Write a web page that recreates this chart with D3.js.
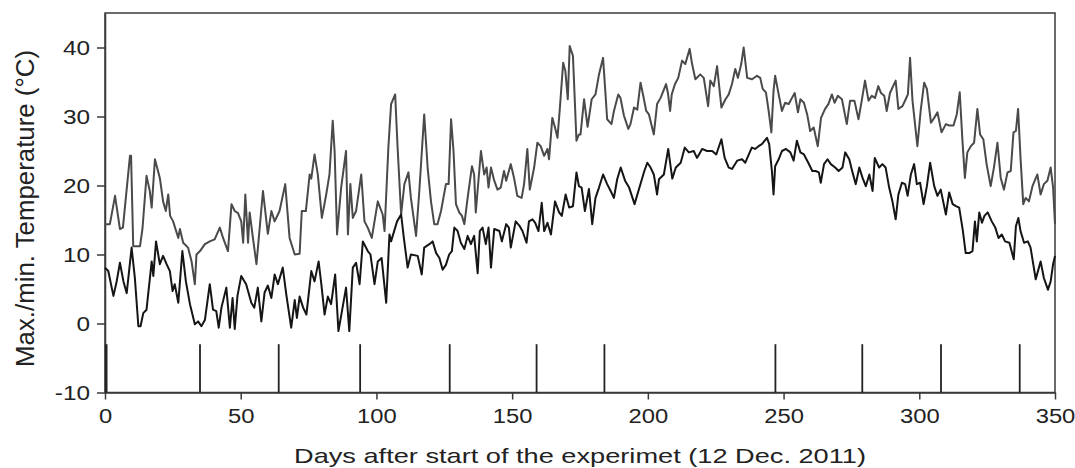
<!DOCTYPE html>
<html><head><meta charset="utf-8">
<script src="https://cdn.jsdelivr.net/npm/d3@7"></script>
<style>body{margin:0;background:#fff;} svg{display:block;}</style>
</head><body><svg id="c" width="1075" height="468"></svg>
<script>
// Daily maximum temperature
const maxDays = [0,1.8,3.7,5.5,6.6,9.2,9.6,10.4,12.9,13.8,15.3,16.5,17.2,18.4,20.2,21.4,22.4,23.3,24.0,25.1,27.0,27.6,28.8,30.6,31.9,33.1,33.7,35.0,36.8,38.6,40.4,42.3,43.5,45.3,46.6,47.8,49.0,50.2,50.9,51.7,52.7,53.3,54.5,55.8,58.2,60.0,61.3,62.5,64.3,66.4,68.0,69.9,71.7,72.5,74.0,75.4,76.0,77.2,78.4,79.9,81.5,82.7,83.9,84.6,85.5,87.0,88.8,89.5,90.4,91.3,92.5,94.4,95.6,96.8,98.3,100.5,102.3,103.0,104.4,105.4,106.9,107.8,109.1,110.3,111.8,112.7,114.6,115.8,117.6,118.9,120.1,121.3,122.5,123.8,125.6,126.6,127.5,128.4,129.3,130.5,131.5,132.4,133.6,135.2,136.0,136.6,138.5,139.7,140.6,141.3,142.2,143.4,144.6,145.8,147.0,147.8,149.5,150.7,151.9,153.5,154.4,155.6,156.5,158.1,159.3,160.5,161.8,163.0,163.6,164.8,165.8,166.7,167.5,168.8,169.6,170.5,171.2,172.4,173.7,174.6,175.2,176.5,177.8,179.3,180.7,182.0,183.5,184.4,185.0,186.6,187.5,189.1,189.9,191.2,192.8,193.6,194.9,196.1,197.3,198.2,199.4,200.4,202.2,203.4,204.7,206.7,207.4,208.2,208.8,210.0,211.2,212.6,213.8,215.4,216.3,217.5,219.3,220.6,222.2,223.0,224.3,225.5,227.1,228.6,229.8,231.0,232.2,233.2,234.4,235.3,236.6,238.4,240.2,241.4,242.3,243.5,244.5,245.5,246.3,246.9,248.2,249.4,250.6,251.9,253.1,254.1,255.3,256.2,257.5,258.7,259.8,261.1,262.6,263.8,265.3,266.5,267.8,268.8,270.0,271.5,273.3,274.5,276.1,277.6,278.8,280.0,281.3,282.5,283.7,284.9,285.9,287.1,288.0,289.2,291.3,292.3,293.8,295.0,295.8,296.6,297.5,299.3,300.5,301.8,302.8,304.3,305.5,306.7,308.2,309.8,311.0,312.6,313.8,314.9,315.9,316.8,317.7,319.0,320.2,321.4,322.4,323.6,324.8,326.3,327.5,328.8,330.0,331.2,332.5,333.7,334.7,335.6,336.4,337.3,338.3,339.2,340.4,341.7,343.5,344.7,345.9,347.2,348.4,349.3,350.0];
const maxTemps = [14.4,14.4,18.5,13.7,13.9,24.3,24.3,11.2,11.2,13.7,21.4,19.2,16.8,23.8,21.1,17.7,16.3,18.7,15.6,14.8,12.4,13.7,11.7,11.0,9.0,5.7,10.0,10.5,11.5,11.9,12.2,13.9,12.4,10.5,17.3,16.3,16.0,14.8,11.7,18.7,11.7,16.1,12.4,8.6,19.2,13.0,16.3,14.8,16.3,20.2,12.4,10.0,10.1,16.3,16.3,21.6,21.0,24.5,21.6,15.3,18.7,21.6,29.4,24.9,12.9,19.7,25.0,12.9,20.2,15.3,16.3,21.6,14.8,13.9,12.4,17.7,15.8,13.4,25.5,31.8,33.2,25.5,15.8,20.2,21.9,18.2,12.7,19.2,30.3,22.4,17.7,14.4,14.4,16.3,20.2,20.2,29.6,25.0,17.3,16.1,15.6,14.4,18.2,22.8,21.6,16.1,25.0,21.6,22.6,19.7,22.6,20.7,19.4,19.7,22.1,20.7,23.1,21.1,18.5,18.2,20.2,25.3,19.4,22.6,26.2,25.7,24.3,25.3,23.8,29.8,28.4,26.9,30.8,37.8,36.6,32.5,40.2,38.8,26.5,27.4,27.4,32.5,28.5,32.5,33.2,36.1,38.5,33.2,29.6,28.9,30.8,33.2,32.7,30.1,28.2,28.9,31.3,31.0,34.9,33.2,30.8,30.3,27.4,31.8,32.7,34.7,33.4,30.8,33.2,34.7,35.6,38.1,37.6,39.8,37.6,35.4,36.1,35.6,31.5,35.2,34.4,37.3,31.3,32.5,33.2,34.7,36.9,35.6,37.6,40.0,35.6,35.4,35.9,35.6,34.0,33.5,30.8,27.7,33.7,35.9,33.2,30.8,32.0,31.8,32.7,33.4,30.6,32.5,32.0,30.3,27.9,28.4,25.7,29.8,31.1,31.8,33.2,32.0,33.0,32.5,28.9,32.3,32.3,29.6,32.3,35.2,32.3,33.0,32.7,34.4,33.4,33.0,30.8,33.4,35.2,31.1,31.5,32.5,33.2,38.5,32.3,25.7,30.8,34.9,34.0,29.1,29.8,30.6,27.7,28.9,28.7,28.7,30.3,33.5,26.5,21.1,24.8,25.7,26.2,31.1,27.4,26.7,23.1,19.9,22.6,26.2,21.1,19.4,21.9,22.1,27.7,27.9,31.1,24.0,17.3,18.2,17.7,19.9,21.6,18.7,20.2,20.7,22.6,19.7,14.4];

// Daily minimum temperature
const minDays = [0,1.2,3.1,4.3,5.5,6.8,8.0,9.8,11.0,12.3,13.1,14.1,15.3,17.2,17.8,18.8,20.2,21.4,22.7,23.9,24.9,25.7,27.0,28.5,29.8,31.3,33.1,34.3,35.5,36.8,38.6,39.8,41.0,41.9,42.9,44.7,46.0,47.0,47.8,48.8,50.2,52.0,53.9,55.0,56.3,57.6,58.8,60.0,61.3,62.5,63.7,65.5,66.8,68.6,69.9,70.7,71.7,73.0,74.2,76.0,77.2,78.7,79.7,80.9,82.1,83.3,84.8,86.0,87.3,88.8,90.0,91.3,92.5,93.8,95.0,96.8,97.8,99.3,100.5,101.9,103.6,104.8,105.4,107.6,109.1,110.1,111.5,112.7,115.2,116.7,117.6,119.5,120.7,122.0,123.2,124.4,125.6,126.8,127.8,128.7,129.9,131.1,132.4,133.6,134.8,136.0,137.3,138.1,139.1,140.3,141.3,142.2,143.4,145.3,146.2,147.8,148.8,149.5,151.3,152.8,153.8,155.3,156.2,157.5,158.5,159.7,160.9,161.8,163.0,164.3,165.8,167.3,168.3,169.7,171.0,172.4,173.7,174.6,175.6,176.8,178.3,179.5,180.7,182.0,183.5,185.0,186.3,187.5,188.7,190.0,191.6,193.1,195.1,196.9,198.7,199.8,201.0,202.2,203.4,204.1,205.9,207.5,209.0,210.3,212.1,213.6,215.1,216.9,218.1,220.0,221.8,223.7,225.2,227.1,228.3,229.8,231.0,232.9,234.7,235.9,237.2,238.3,239.5,240.8,242.0,243.9,244.7,245.7,246.3,246.9,248.2,249.4,250.9,252.5,253.7,254.9,256.2,257.5,259.1,260.6,261.8,263.0,263.7,264.9,266.2,267.4,269.0,270.3,271.7,272.7,274.2,275.4,276.6,277.9,279.1,280.3,281.6,282.8,283.6,285.2,286.4,287.6,288.9,290.1,291.3,292.3,293.6,294.8,295.7,296.9,298.1,299.1,300.3,301.6,302.8,304.0,305.5,306.7,307.9,309.8,311.0,312.3,313.5,314.7,316.0,317.1,318.4,319.6,320.5,321.2,322.1,323.1,324.0,325.2,326.7,328.0,329.2,330.4,331.6,333.2,334.8,335.6,336.5,337.3,338.6,340.0,341.0,342.9,344.7,345.9,347.4,348.4,349.3,350.0];
const minTemps = [8.1,7.6,4.0,6.1,8.8,6.1,4.4,11.0,6.6,-0.4,-0.4,1.5,2.0,9.0,6.9,11.9,8.6,9.8,8.6,7.6,4.7,5.7,3.0,10.5,6.1,2.8,-0.1,0.3,-0.4,0.5,5.7,2.0,1.8,-0.6,2.3,5.2,-0.6,3.7,-0.8,4.0,6.9,5.7,3.0,2.3,5.2,0.3,4.5,5.5,3.7,7.1,5.7,8.1,4.2,-0.6,3.4,0.8,3.9,2.3,1.3,7.6,6.1,9.0,5.7,1.3,3.9,2.8,7.1,-1.1,1.8,5.2,-1.1,8.1,8.8,5.7,11.9,10.5,10.0,5.7,9.0,9.5,3.0,12.9,11.9,14.8,15.8,12.4,8.1,10.0,9.8,7.1,11.0,11.5,11.9,10.2,9.5,7.8,8.5,10.0,10.5,13.9,13.4,11.7,10.8,12.7,11.5,12.7,7.3,13.4,13.9,11.5,13.9,8.1,13.7,13.4,11.9,14.4,13.9,11.0,14.8,14.1,13.4,11.7,14.8,15.1,14.6,13.4,17.5,13.4,14.6,12.9,17.7,16.1,15.6,18.7,16.8,17.0,21.9,19.9,19.7,16.3,19.5,14.4,18.2,19.7,21.6,20.2,19.2,18.2,20.9,22.6,20.7,19.7,17.3,19.7,22.1,23.3,22.6,21.6,18.7,20.9,21.6,25.3,21.0,22.6,23.3,25.5,24.8,25.0,24.0,25.3,25.0,25.0,24.5,26.7,24.0,22.6,22.4,23.6,23.8,23.3,24.5,25.5,25.3,25.7,26.0,26.9,26.0,22.1,18.7,22.8,23.8,25.0,25.3,24.8,23.6,26.5,24.8,24.5,23.3,22.1,22.1,21.9,20.4,23.1,23.8,23.1,22.6,22.1,22.6,24.8,23.8,21.9,20.2,22.6,21.1,19.9,21.6,19.2,24.0,22.6,23.1,22.6,19.7,17.7,15.1,18.7,20.4,20.2,18.5,21.6,23.1,20.2,20.4,17.3,19.9,23.3,19.9,18.5,19.4,15.8,19.0,17.3,17.0,16.8,13.6,10.2,10.2,10.5,14.8,11.9,16.1,14.6,15.6,16.1,14.8,13.9,12.4,12.9,11.9,11.7,9.3,14.1,15.3,13.4,11.7,11.9,11.0,6.4,9.0,6.6,4.9,6.1,8.6,9.8];

// Vertical event markers (days)
const eventDays = [0,35,64,94,127,159,184,247,279,308,337];
const markerBottom = -10, markerTop = -3;

const xTicks = [0,50,100,150,200,250,300,350];
const yTicks = [-10,0,10,20,30,40];
const xTitle = "Days after start of the experimet (12 Dec. 2011)";
const yTitle = "Max./min. Temperature (°C)";

const svg = d3.select("#c");
const L = 105, R = 1055, T = 13, B = 392.5;
const x = d3.scaleLinear().domain([0,350]).range([L,R]);
const y = d3.scaleLinear().domain([-10,45]).range([B,T]);
const font = "'Liberation Sans', Arial, Helvetica, sans-serif";
const axisCol = "#3a3a3a";

function stretch(sel, k){
  sel.each(function(){
    const w = this.getComputedTextLength();
    d3.select(this).attr("textLength", w*k).attr("lengthAdjust","spacingAndGlyphs");
  });
}

// frame
svg.append("rect").attr("x",L).attr("y",T).attr("width",R-L).attr("height",B-T)
  .attr("fill","none").attr("stroke",axisCol).attr("stroke-width",1.5);

// axes
const gx = svg.append("g").attr("transform",`translate(0,${B})`)
  .call(d3.axisBottom(x).tickValues(xTicks).tickFormat(d=>String(d)).tickSizeInner(7).tickSizeOuter(0).tickPadding(10));
const gy = svg.append("g").attr("transform",`translate(${L},0)`)
  .call(d3.axisLeft(y).tickValues(yTicks).tickFormat(d=>String(d)).tickSizeInner(8).tickSizeOuter(0).tickPadding(7));
[gx,gy].forEach(g=>{
  g.select(".domain").attr("stroke",axisCol).attr("stroke-width",1.5);
  g.selectAll(".tick line").attr("stroke",axisCol).attr("stroke-width",1.5);
  g.selectAll(".tick text").attr("fill","#222").style("font-family",font).style("font-size","19.5px");
});
stretch(gx.selectAll(".tick text"), 1.22);
stretch(gy.selectAll(".tick text"), 1.25);
gy.selectAll(".tick text").attr("dy","0.34em");

// event markers
svg.append("g").selectAll("line").data(eventDays).join("line")
  .attr("x1",d=>x(d)+(d===0?1.2:0)).attr("x2",d=>x(d)+(d===0?1.2:0))
  .attr("y1",y(markerBottom)).attr("y2",y(markerTop))
  .attr("stroke","#222").attr("stroke-width",d=>d===0?2.6:1.8);

// lines
const maxData = maxDays.map((d,i)=>[d,maxTemps[i]]);
const minData = minDays.map((d,i)=>[d,minTemps[i]]);
const line = d3.line().x(d=>x(d[0])).y(d=>y(d[1]));
svg.append("path").datum(maxData).attr("d",line).attr("fill","none")
  .attr("stroke","#4a4a4a").attr("stroke-width",2).attr("stroke-linejoin","round");
svg.append("path").datum(minData).attr("d",line).attr("fill","none")
  .attr("stroke","#151515").attr("stroke-width",2).attr("stroke-linejoin","round");

// titles
const xt = svg.append("text").attr("x",(L+R)/2).attr("y",463).attr("text-anchor","middle")
  .style("font-family",font).style("font-size","21px").attr("fill","#222").text(xTitle);
xt.attr("textLength",572).attr("lengthAdjust","spacingAndGlyphs");
const yt = svg.append("text").attr("transform","translate(34,208.5) rotate(-90)").attr("text-anchor","middle")
  .style("font-family",font).style("font-size","25px").attr("fill","#222").text(yTitle);
yt.attr("textLength",317).attr("lengthAdjust","spacingAndGlyphs");
</script></body></html>
